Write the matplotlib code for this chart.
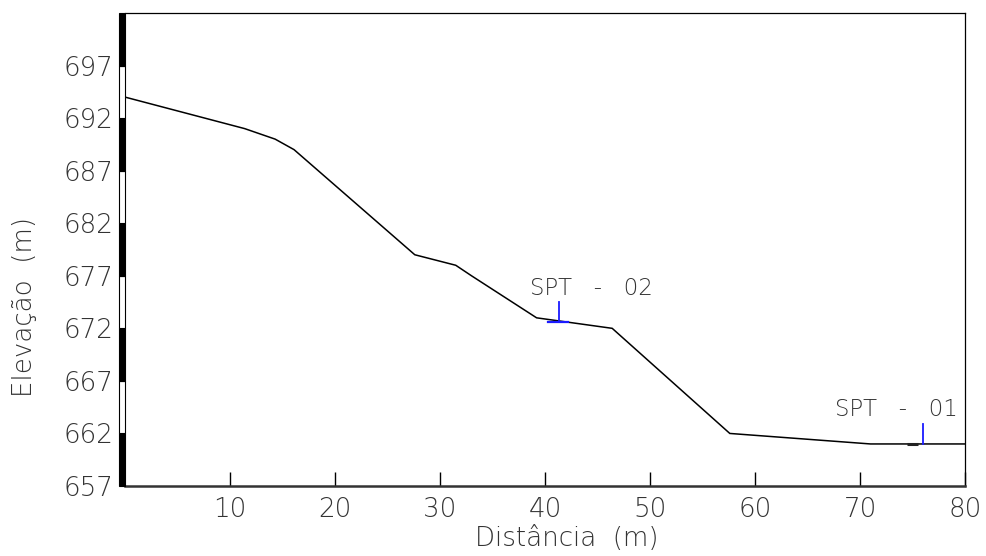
import matplotlib
matplotlib.use("Agg")
import matplotlib.pyplot as plt
from matplotlib.patches import Rectangle
from matplotlib.transforms import blended_transform_factory

# ---- data ----
dist = [0.0, 11.4, 14.3, 16.1, 27.6, 31.5, 33.0, 39.2, 46.4, 57.6, 71.0, 80.0]
elev = [694.0, 691.0, 690.0, 689.0, 679.0, 678.0, 677.0, 673.0, 672.0, 662.0, 661.0, 661.0]

spt_names = ["SPT   -   01", "SPT   -   02"]
spt_x = [76.0, 41.3]
spt_base = [661.0, 672.6]
spt_top = [662.9, 674.5]
spt_label_x = [73.5, 44.4]
spt_label_y = [664.3, 675.8]
spt02_plate = [40.3, 42.2]
spt01_pad = [74.5, 75.5]

x_ticks = [10, 20, 30, 40, 50, 60, 70, 80]
y_ticks = [657, 662, 667, 672, 677, 682, 687, 692, 697]
y_min, y_max = 657, 702
x_min, x_max = 0, 80

FONT = ["DejaVu Sans"]
plt.rcParams["font.family"] = FONT
FS = 18.8

fig = plt.figure(figsize=(9.86, 5.56), dpi=100)
ax = fig.add_axes([125/986, 1-486/556, (965-125)/986, (486-13)/556])

ax.plot(dist, elev, color="black", lw=1.1, solid_joinstyle="miter")
ax.plot(spt01_pad, [661.0, 661.0], color="#222222", lw=2.2, solid_capstyle="butt")

# SPT markers
for name, x, b, t, lx, ly in zip(spt_names, spt_x, spt_base, spt_top, spt_label_x, spt_label_y):
    ax.plot([x, x], [b, t], color="#1a1aff", lw=1.3)
    ax.text(lx, ly, name, ha="center", va="center", fontsize=16.5, color="#333333",
            fontweight="light")
ax.plot(spt02_plate, [spt_base[1], spt_base[1]], color="#1a1aff", lw=1.6)

ax.set_xlim(x_min, x_max)
ax.set_ylim(y_min, y_max)
ax.set_xticks(x_ticks)
ax.set_xticklabels([str(v) for v in x_ticks])
ax.set_yticks(y_ticks)
ax.set_yticklabels([str(v) for v in y_ticks])

ax.tick_params(axis="x", direction="in", length=10, width=1, pad=8,
               labelsize=FS, labelcolor="#333333", top=False)
ax.tick_params(axis="y", length=0, pad=8.6, labelsize=FS, labelcolor="#333333")

for lbl in ax.get_xticklabels() + ax.get_yticklabels():
    lbl.set_fontweight("light")

ax.spines["left"].set_visible(False)
ax.spines["bottom"].set_linewidth(1.8)
ax.spines["bottom"].set_color("#333333")
ax.spines["top"].set_linewidth(0.9)
ax.spines["right"].set_linewidth(0.9)

# scale bar on the left
trans = blended_transform_factory(ax.transAxes, ax.transData)
bw = 6 / 840
for i, lo in enumerate(range(y_min, y_max, 5)):
    fc = "black" if i % 2 == 0 else "white"
    ax.add_patch(Rectangle((-bw, lo), bw, 5, transform=trans, facecolor=fc,
                           edgecolor="black", lw=0.8, clip_on=False, zorder=5))

ax.set_xlabel("Distância  (m)", fontsize=FS, color="#333333", fontweight="light")
ax.xaxis.set_label_coords((567-125)/840, -(538-486)/473)
ax.xaxis.label.set_va("center")
ax.set_ylabel("Elevação  (m)", fontsize=FS, color="#333333", fontweight="light")
ax.yaxis.set_label_coords((25-125)/840, (486-307)/473)
ax.yaxis.label.set_va("center")

fig.savefig("out.png", dpi=100)
